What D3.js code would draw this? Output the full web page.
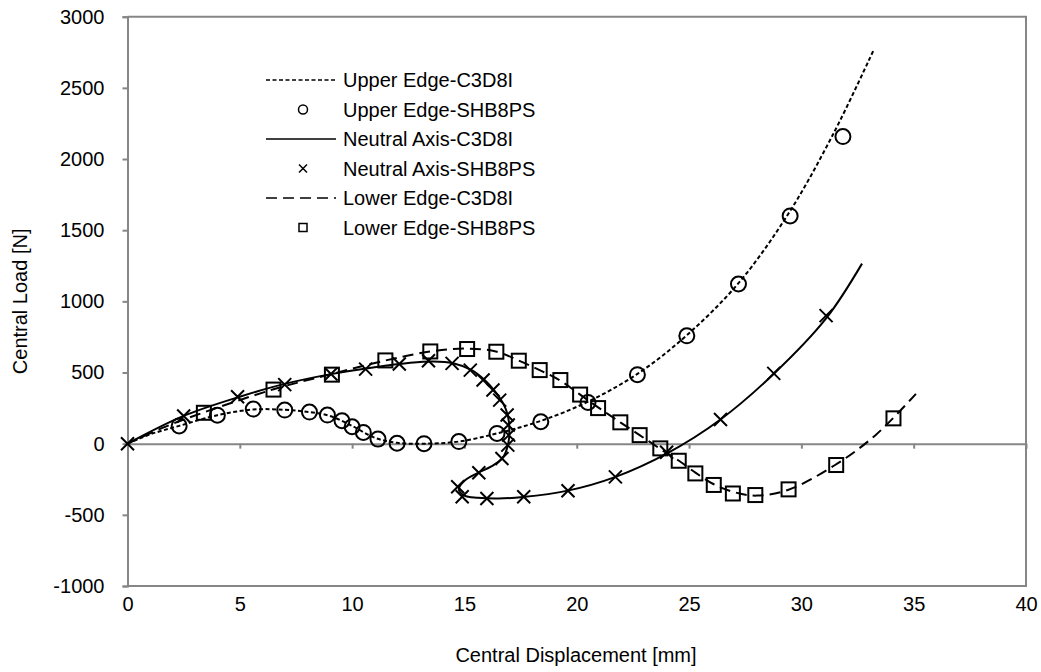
<!DOCTYPE html>
<html><head><meta charset="utf-8">
<script src="https://cdn.jsdelivr.net/npm/d3@7"></script>
<style>
body{margin:0;background:#fff}
svg{display:block}
text{font-family:"Liberation Sans",Arial,sans-serif;fill:#000}
</style>
</head><body>
<svg id="chart" width="1041" height="672"></svg>
<script>
// ---- data ----
const xTicks = [0, 5, 10, 15, 20, 25, 30, 35, 40];
const yTicks = [-1000, -500, 0, 500, 1000, 1500, 2000, 2500, 3000];
const xTitle = "Central Displacement [mm]";
const yTitle = "Central Load [N]";
const legendLabels = ["Upper Edge-C3D8I","Upper Edge-SHB8PS","Neutral Axis-C3D8I","Neutral Axis-SHB8PS","Lower Edge-C3D8I","Lower Edge-SHB8PS"];

// Upper Edge - C3D8I (short dashed line)
const upperC3X = [0, 1.0, 2.3, 4.0, 5.6, 7.0, 8.1, 9.0, 10.0, 11.0, 12.0, 13.2, 14.75, 16.45, 18.4, 20.5, 22.7, 24.9, 27.2, 29.4, 31.4, 33.2];
const upperC3Y = [0, 65, 125, 200, 240, 238, 222, 195, 125, 42, 6, 0, 15, 72, 160, 295, 490, 762, 1128, 1610, 2170, 2760];
// Upper Edge - SHB8PS (circles)
const upperSHX = [2.3, 4.0, 5.6, 7.0, 8.1, 8.9, 9.55, 10.0, 10.5, 11.15, 12.0, 13.2, 14.75, 16.45, 18.4, 20.5, 22.7, 24.9, 27.2, 29.5, 31.85];
const upperSHY = [125, 200, 243, 236, 222, 201, 161, 119, 79, 32, 3, 0, 15, 72, 154, 290, 485, 758, 1122, 1600, 2158];

// Neutral Axis - C3D8I (solid line)
const neutralC3X = [0, 2.5, 5.0, 7.0, 9.0, 11.0, 12.5, 13.6, 14.5, 15.3, 15.9, 16.35, 16.7, 16.93, 17.0, 16.95, 16.7, 16.2, 15.6, 15.0, 14.75, 15.0, 15.6, 16.5, 17.6, 19.6, 21.7, 24.0, 26.4, 28.8, 31.1, 32.7];
const neutralC3Y = [0, 195, 330, 420, 487, 537, 567, 578, 565, 518, 447, 370, 290, 200, 100, 0, -100, -160, -205, -260, -320, -365, -380, -385, -375, -330, -235, -70, 170, 495, 880, 1265];
// Neutral Axis - SHB8PS (crosses)
const neutralSHX = [0, 2.5, 4.9, 7.0, 9.06, 10.6, 12.1, 13.4, 14.45, 15.26, 15.83, 16.27, 16.57, 16.9, 16.95, 16.97, 16.93, 16.67, 15.64, 14.7, 14.9, 16.0, 17.64, 19.61, 21.72, 24.0, 26.4, 28.77, 31.1];
const neutralSHY = [0, 195, 330, 415, 489, 524, 560, 583, 564, 517, 447, 377, 306, 201, 131, 60, -10, -104, -204, -303, -373, -385, -373, -331, -233, -60, 170, 494, 900];

// Lower Edge - C3D8I (long dashed line)
const lowerC3X = [0, 1.7, 3.4, 6.5, 9.1, 11.5, 13.5, 15.1, 16.4, 17.4, 18.35, 19.3, 20.15, 21.0, 21.94, 22.8, 23.7, 24.55, 25.3, 26.1, 27.0, 28.0, 29.4, 31.5, 33.3, 35.1];
const lowerC3Y = [0, 120, 220, 382, 490, 585, 648, 668, 648, 585, 517, 440, 345, 250, 150, 60, -35, -120, -205, -285, -340, -365, -325, -150, 60, 350];
// Lower Edge - SHB8PS (squares)
const lowerSHX = [3.4, 6.5, 9.1, 11.48, 13.48, 15.12, 16.42, 17.42, 18.35, 19.27, 20.15, 20.95, 21.94, 22.8, 23.72, 24.54, 25.28, 26.1, 26.95, 27.95, 29.43, 31.55, 34.1];
const lowerSHY = [217, 380, 485, 585, 648, 665, 646, 583, 517, 447, 345, 250, 150, 60, -33, -120, -209, -290, -350, -361, -321, -150, 178];

// ---- drawing ----
const svg = d3.select("#chart");
const x = d3.scaleLinear().domain([0, 40]).range([127.5, 1026]);
const y = d3.scaleLinear().domain([-1000, 3000]).range([586, 16.7]);
const gray = "#868686";
const FS = 20;
const fmt = d => String(d);

// plot border (top, right, bottom)
svg.append("path")
  .attr("d", `M${x(0)},${y(3000)}H${x(40)}V${y(-1000)}H${x(0)}`)
  .attr("fill", "none").attr("stroke", gray).attr("stroke-width", 2);

// y axis
const yAxis = svg.append("g").attr("transform", `translate(${x(0)},0)`)
  .call(d3.axisLeft(y).tickValues(yTicks).tickSize(5).tickPadding(18).tickFormat(fmt));
yAxis.select(".domain").attr("stroke", gray).attr("stroke-width", 2);
yAxis.selectAll(".tick line").attr("stroke", gray).attr("stroke-width", 2);
yAxis.selectAll("text").style("font-size", FS + "px").style("font-family", '"Liberation Sans",Arial,sans-serif').attr("fill", "#000");

// x axis line at zero with ticks
const xAxis0 = svg.append("g").attr("transform", `translate(0,${y(0)})`)
  .call(d3.axisBottom(x).tickValues(xTicks).tickSize(5).tickSizeOuter(0).tickFormat(""));
xAxis0.select(".domain").attr("stroke", gray).attr("stroke-width", 2);
xAxis0.selectAll(".tick line").attr("stroke", gray).attr("stroke-width", 2);

// x tick labels at bottom
const xAxisB = svg.append("g").attr("transform", `translate(0,${y(-1000)})`)
  .call(d3.axisBottom(x).tickValues(xTicks).tickSize(0).tickPadding(11).tickFormat(fmt));
xAxisB.select(".domain").remove();
xAxisB.selectAll("text").style("font-size", FS + "px").style("font-family", '"Liberation Sans",Arial,sans-serif').attr("fill", "#000");

// axis titles
svg.append("text").attr("x", 576).attr("y", 662).attr("text-anchor", "middle")
  .style("font-size", FS + "px").text(xTitle);
svg.append("text").attr("transform", `translate(27,${(y(3000)+y(-1000))/2}) rotate(-90)`)
  .attr("text-anchor", "middle").style("font-size", FS + "px").text(yTitle);

// lines
const zip = (xs, ys) => xs.map((v, i) => [v, ys[i]]);
const line = d3.line().x(d => x(d[0])).y(d => y(d[1])).curve(d3.curveCatmullRom.alpha(0.5));

const g = svg.append("g");
g.append("path").datum(zip(upperC3X, upperC3Y)).attr("d", line)
  .attr("fill", "none").attr("stroke", "#000").attr("stroke-width", 2).attr("stroke-dasharray", "4,2.5");
g.append("path").datum(zip(neutralC3X, neutralC3Y)).attr("d", line)
  .attr("fill", "none").attr("stroke", "#000").attr("stroke-width", 2);
g.append("path").datum(zip(lowerC3X, lowerC3Y)).attr("d", line)
  .attr("fill", "none").attr("stroke", "#000").attr("stroke-width", 2).attr("stroke-dasharray", "11,6");

// markers
g.selectAll(".circ").data(zip(upperSHX, upperSHY)).join("circle")
  .attr("cx", d => x(d[0])).attr("cy", d => y(d[1])).attr("r", 7.5)
  .attr("fill", "none").attr("stroke", "#000").attr("stroke-width", 2);
const xs = 6.5;
g.selectAll(".cross").data(zip(neutralSHX, neutralSHY)).join("path")
  .attr("d", d => { const cx = x(d[0]), cy = y(d[1]); return `M${cx-xs},${cy-xs}L${cx+xs},${cy+xs}M${cx-xs},${cy+xs}L${cx+xs},${cy-xs}`; })
  .attr("fill", "none").attr("stroke", "#000").attr("stroke-width", 2);
const sq = 14;
g.selectAll(".sq").data(zip(lowerSHX, lowerSHY)).join("rect")
  .attr("x", d => x(d[0]) - sq/2).attr("y", d => y(d[1]) - sq/2).attr("width", sq).attr("height", sq)
  .attr("fill", "none").attr("stroke", "#000").attr("stroke-width", 2);

// legend
const legY = [80, 109.5, 139, 168.5, 198, 227.5];
const lx0 = 266, lx1 = 336, lmx = 303, ltx = 343;
const leg = svg.append("g");
legendLabels.forEach((lab, i) => {
  leg.append("text").attr("x", ltx).attr("y", legY[i]).attr("dy", "0.35em").style("font-size", FS + "px").text(lab);
});
leg.append("line").attr("x1", lx0).attr("x2", lx1).attr("y1", legY[0]).attr("y2", legY[0])
  .attr("stroke", "#000").attr("stroke-width", 1.5).attr("stroke-dasharray", "4,2.5");
leg.append("circle").attr("cx", lmx).attr("cy", legY[1]).attr("r", 4.5).attr("fill", "none").attr("stroke", "#000").attr("stroke-width", 1.5);
leg.append("line").attr("x1", lx0).attr("x2", lx1).attr("y1", legY[2]).attr("y2", legY[2])
  .attr("stroke", "#000").attr("stroke-width", 1.5);
leg.append("path").attr("d", `M${lmx-4},${legY[3]-4}L${lmx+4},${legY[3]+4}M${lmx-4},${legY[3]+4}L${lmx+4},${legY[3]-4}`)
  .attr("stroke", "#000").attr("stroke-width", 1.5);
leg.append("line").attr("x1", lx0).attr("x2", lx1).attr("y1", legY[4]).attr("y2", legY[4])
  .attr("stroke", "#000").attr("stroke-width", 1.5).attr("stroke-dasharray", "11,6");
leg.append("rect").attr("x", lmx-4).attr("y", legY[5]-4).attr("width", 8).attr("height", 8)
  .attr("fill", "none").attr("stroke", "#000").attr("stroke-width", 1.5);
</script>
</body></html>
